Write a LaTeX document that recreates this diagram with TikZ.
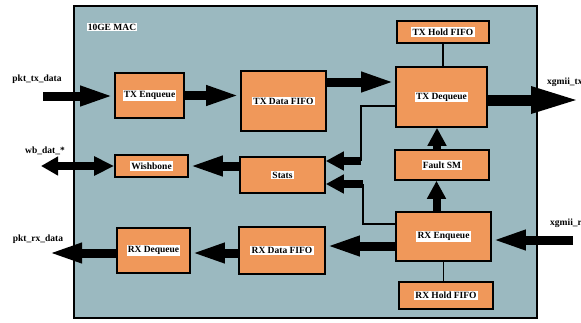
\documentclass[tikz,border=0pt]{standalone}
\usepackage{fontspec}
\setmainfont{Liberation Serif}
\usetikzlibrary{arrows.meta}
\definecolor{macFill}{HTML}{9BB9C0}
\definecolor{blkFill}{HTML}{F0985A}
\newcommand{\whitetag}[1]{{\setlength{\fboxsep}{1.2pt}\colorbox{white}{#1}}}
\tikzset{
  macfig/.style={
    x=1pt, y=-1pt,
    every node/.append style={font=\fontsize{9.5}{10.5}\selectfont\bfseries},
  },
  macbox/.style={draw=black, line width=1.8pt, fill=macFill, inner sep=0pt,
    minimum width=463pt, minimum height=312pt},
  blk/.style={draw=black, line width=1.6pt, fill=blkFill, inner sep=0pt},
  portlbl/.style={inner sep=0pt},
  wire/.style={draw=black, line width=1.6pt},
  bus/.style={draw=black, line width=9pt, -{Triangle[length=34pt, width=18pt]}},
  shortbus/.style={draw=black, line width=8pt, -{Triangle[length=18pt, width=18pt]}},
  widebus/.style={draw=black, line width=11pt, -{Triangle[length=50pt, width=24pt]}},
  wbbus/.style={draw=black, line width=8pt,
    {Triangle[length=17pt, width=18pt]}-{Triangle[length=20pt, width=18pt]}},
}

\begin{document}
\begin{tikzpicture}[macfig]
  \useasboundingbox (0,0) rectangle (581,322);
  \clip (0,0) rectangle (581,322);
  % outer block
  \node[macbox] (mac) at (305.5,162) {};
  \node[portlbl] (macname) at (112,27) {\whitetag{10GE MAC}};
  % transmit path
  \node[blk, minimum width=69pt, minimum height=45pt] (txenq) at (149.5,95.5) {\whitetag{TX Enqueue}};
  \node[blk, minimum width=85pt, minimum height=60pt] (txdata) at (283.5,101) {\whitetag{TX Data FIFO}};
  \node[blk, minimum width=92pt, minimum height=22pt] (txhold) at (443,32) {\whitetag{TX Hold FIFO}};
  \node[blk, minimum width=91pt, minimum height=60pt] (txdeq) at (441.5,97) {\whitetag{TX Dequeue}};
  \node[blk, minimum width=94pt, minimum height=30pt] (fault) at (442,165) {\whitetag{Fault SM}};
  % receive path
  \node[blk, minimum width=95pt, minimum height=49pt] (rxenq) at (443.5,236.5) {\whitetag{RX Enqueue}};
  \node[blk, minimum width=94pt, minimum height=27pt] (rxhold) at (446,295.5) {\whitetag{RX Hold FIFO}};
  \node[blk, minimum width=86pt, minimum height=47pt] (rxdata) at (282,250.5) {\whitetag{RX Data FIFO}};
  \node[blk, minimum width=73pt, minimum height=45pt] (rxdeq) at (153.5,250.5) {\whitetag{RX Dequeue}};
  % management
  \node[blk, minimum width=73pt, minimum height=22pt] (wb) at (151.5,166) {\whitetag{Wishbone}};
  \node[blk, minimum width=85pt, minimum height=36pt] (stats) at (282.5,175) {\whitetag{Stats}};
  % port labels
  \node[portlbl] (pkttxlbl) at (37,79) {pkt\_tx\_data};
  \node[portlbl] (wblbl) at (45,151) {wb\_dat\_*};
  \node[portlbl] (pktrxlbl) at (38,239) {pkt\_rx\_data};
  \node[portlbl, anchor=west] (xgtxlbl) at (547,82) {xgmii\_tx};
  \node[portlbl, anchor=west] (xgrxlbl) at (550,223) {xgmii\_rx};
  \coordinate (pkttx) at (43,96);
  \coordinate (pktrx) at (48,253);
  \coordinate (wbend) at (41,166);
  \coordinate (xgtx) at (581,100);
  \coordinate (xgrx) at (573,240);
  \coordinate (stA) at (361,161);
  \coordinate (stB) at (363,184);
  % thin links
  \draw[wire] (txhold.south) -- (txhold.south |- txdeq.north);
  \draw[wire] (rxenq.south) -- (rxenq.south |- rxhold.north);
  \draw[wire] ([yshift=-9pt]txdeq.west) -| (stA);
  \draw[wire] ([yshift=12.5pt]rxenq.west) -| (stB);
  % data buses
  \draw[bus] (pkttx) -- (pkttx -| txenq.west);
  \draw[bus] (txenq.east) -- (txenq.east -| txdata.west);
  \draw[bus] ([yshift=19pt]txdata.east) -- ([yshift=19pt]txdata.east -| txdeq.west);
  \draw[widebus] ([yshift=-3pt]txdeq.east) -- (xgtx);
  \draw[shortbus] ([xshift=-5pt]fault.north) -- ([xshift=-5pt]fault.north |- txdeq.south);
  \draw[shortbus] ([xshift=-7pt]rxenq.north) -- ([xshift=-7pt]rxenq.north |- fault.south);
  \draw[bus] (xgrx) -- (xgrx -| rxenq.east);
  \draw[bus] ([yshift=-9.5pt]rxenq.west) -- ([yshift=-9.5pt]rxenq.west -| rxdata.east);
  \draw[bus] ([yshift=-2.5pt]rxdata.west) -- ([yshift=-2.5pt]rxdata.west -| rxdeq.east);
  \draw[bus] ([yshift=-2.5pt]rxdeq.west) -- (pktrx);
  \draw[shortbus] (stA) -- (stA -| stats.east);
  \draw[shortbus] (stB) -- (stB -| stats.east);
  \draw[bus] (stats.west |- wb.east) -- (wb.east);
  \draw[wbbus] (wbend) -- (wb.west);
\end{tikzpicture}
\end{document}
